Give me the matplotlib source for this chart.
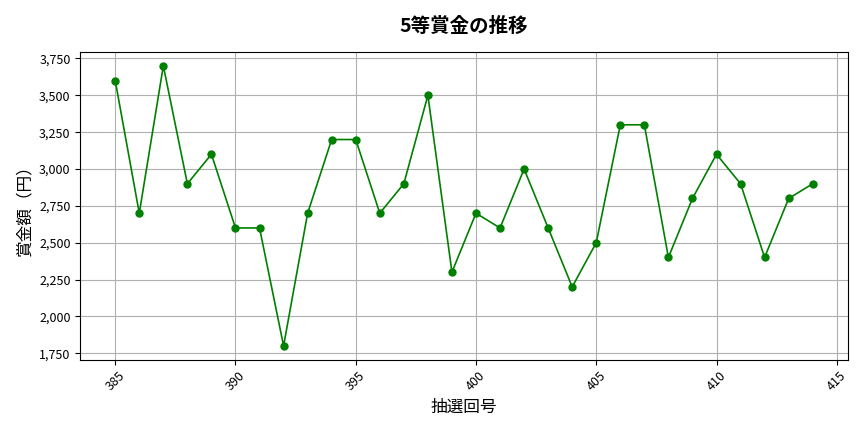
import matplotlib.pyplot as plt
from matplotlib.ticker import FuncFormatter

plt.rcParams['font.family'] = ['Noto Sans CJK JP', 'DejaVu Sans']

# Draw numbers and 5th prize amounts
draws = list(range(385, 415))
prizes = [3600, 2700, 3700, 2900, 3100, 2600, 2600, 1800, 2700, 3200,
          3200, 2700, 2900, 3500, 2300, 2700, 2600, 3000, 2600, 2200,
          2500, 3300, 3300, 2400, 2800, 3100, 2900, 2400, 2800, 2900]

fig, ax = plt.subplots(figsize=(8.64, 4.32), dpi=100)
fig.subplots_adjust(left=0.093, right=0.981, bottom=0.167, top=0.88)

ax.plot(draws, prizes, marker='o', color='green', linewidth=1.2, markersize=5)

ax.set_title('5等賞金の推移', fontsize=14, fontweight='bold', pad=14)
ax.set_xlabel('抽選回号', fontsize=12)
ax.set_ylabel('賞金額（円）', fontsize=12)
ax.yaxis.set_major_formatter(FuncFormatter(lambda v, p: f'{int(v):,}'))
ax.tick_params(axis='x', rotation=45, labelsize=9)
ax.tick_params(axis='y', labelsize=9)
ax.grid(True, color='#b0b0b0', linewidth=0.8)

fig.savefig('out.png')
